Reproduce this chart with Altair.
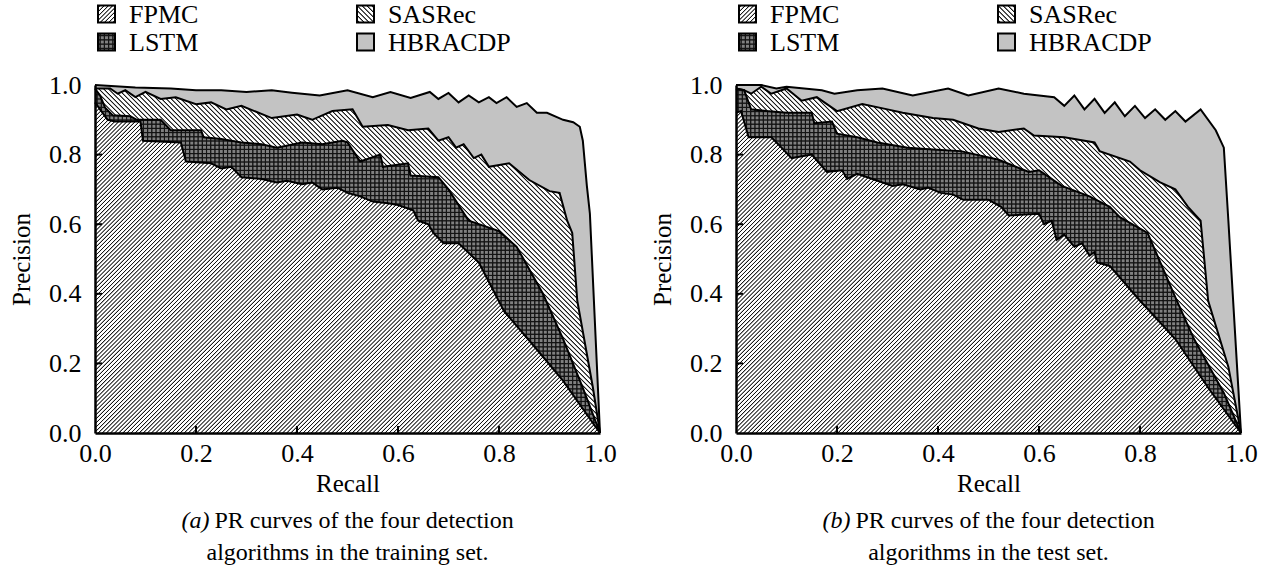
import math
import altair as alt
import pandas as pd

FONT = "Liberation Serif"
W = 505
H = 348

series_names = ["FPMC", "SASRec", "LSTM", "HBRACDP"]
tick_values = [0.2, 0.4, 0.6, 0.8]
label_values = [0.0, 0.2, 0.4, 0.6, 0.8, 1.0]

# ---------------- panel (a): training set ----------------
a_fpmc_recall = [0.00, 0.01, 0.025, 0.04, 0.09, 0.095, 0.17, 0.18, 0.23, 0.25, 0.27, 0.29, 0.33, 0.36, 0.38,
                 0.41, 0.43, 0.45, 0.48, 0.50, 0.525, 0.55, 0.58, 0.60, 0.63, 0.64, 0.66, 0.67, 0.69, 0.72,
                 0.76, 0.81, 0.875, 0.927, 0.99, 1.00]
a_fpmc_prec = [0.95, 0.93, 0.90, 0.895, 0.895, 0.84, 0.835, 0.78, 0.775, 0.76, 0.765, 0.735, 0.73, 0.72, 0.725,
               0.715, 0.72, 0.70, 0.705, 0.69, 0.68, 0.665, 0.66, 0.655, 0.64, 0.61, 0.60, 0.575, 0.545, 0.545,
               0.49, 0.35, 0.24, 0.15, 0.02, 0.00]

a_lstm_recall = [0.00, 0.01, 0.02, 0.035, 0.07, 0.083, 0.13, 0.15, 0.21, 0.215, 0.25, 0.29, 0.33, 0.36, 0.41,
                 0.45, 0.49, 0.50, 0.525, 0.565, 0.57, 0.62, 0.625, 0.68, 0.70, 0.74, 0.80, 0.835, 0.887,
                 0.927, 0.966, 1.00]
a_lstm_prec = [0.99, 0.97, 0.935, 0.913, 0.91, 0.90, 0.90, 0.87, 0.87, 0.85, 0.845, 0.835, 0.83, 0.82, 0.835,
               0.83, 0.84, 0.835, 0.78, 0.80, 0.765, 0.775, 0.74, 0.735, 0.70, 0.61, 0.58, 0.535, 0.40,
               0.27, 0.13, 0.00]

a_sasrec_recall = [0.00, 0.03, 0.045, 0.06, 0.08, 0.10, 0.13, 0.16, 0.20, 0.23, 0.26, 0.29, 0.35, 0.40, 0.43,
                   0.47, 0.51, 0.53, 0.58, 0.62, 0.66, 0.68, 0.70, 0.715, 0.73, 0.75, 0.765, 0.78, 0.82,
                   0.86, 0.90, 0.92, 0.935, 0.945, 0.955, 0.986, 1.00]
a_sasrec_prec = [0.99, 0.99, 0.975, 0.985, 0.965, 0.98, 0.96, 0.965, 0.945, 0.95, 0.93, 0.94, 0.905, 0.915, 0.90,
                 0.925, 0.93, 0.88, 0.885, 0.87, 0.875, 0.84, 0.85, 0.82, 0.83, 0.79, 0.80, 0.765, 0.775,
                 0.727, 0.695, 0.69, 0.61, 0.575, 0.38, 0.13, 0.00]

a_hbracdp_recall = [0.00, 0.08, 0.15, 0.20, 0.25, 0.30, 0.35, 0.39, 0.445, 0.50, 0.55, 0.585, 0.625, 0.663, 0.68,
                    0.70, 0.72, 0.74, 0.76, 0.78, 0.795, 0.815, 0.835, 0.855, 0.875, 0.895, 0.927, 0.947,
                    0.96, 0.966, 0.974, 0.98, 1.00]
a_hbracdp_prec = [1.00, 0.993, 0.99, 0.985, 0.985, 0.98, 0.985, 0.978, 0.97, 0.985, 0.965, 0.98, 0.963, 0.98, 0.96,
                  0.977, 0.95, 0.97, 0.95, 0.965, 0.948, 0.965, 0.937, 0.948, 0.92, 0.92, 0.90, 0.893,
                  0.88, 0.84, 0.71, 0.63, 0.00]

# ---------------- panel (b): test set ----------------
b_fpmc_recall = [0.00, 0.01, 0.025, 0.07, 0.09, 0.11, 0.15, 0.18, 0.21, 0.22, 0.24, 0.27, 0.31, 0.33, 0.365,
                 0.38, 0.405, 0.43, 0.45, 0.50, 0.525, 0.54, 0.60, 0.61, 0.625, 0.635, 0.65, 0.67, 0.685,
                 0.70, 0.71, 0.715, 0.74, 0.80, 0.87, 0.935, 1.00]
b_fpmc_prec = [0.92, 0.925, 0.85, 0.85, 0.82, 0.79, 0.80, 0.75, 0.755, 0.73, 0.745, 0.73, 0.71, 0.715, 0.70,
               0.705, 0.69, 0.685, 0.67, 0.67, 0.65, 0.625, 0.63, 0.60, 0.61, 0.555, 0.57, 0.535, 0.545,
               0.51, 0.52, 0.49, 0.48, 0.38, 0.27, 0.13, 0.00]

b_lstm_recall = [0.00, 0.016, 0.03, 0.06, 0.10, 0.15, 0.155, 0.19, 0.20, 0.24, 0.28, 0.34, 0.39, 0.445, 0.52,
                 0.58, 0.60, 0.645, 0.70, 0.74, 0.76, 0.815, 0.87, 0.907, 0.966, 1.00]
b_lstm_prec = [0.99, 0.985, 0.93, 0.925, 0.92, 0.92, 0.89, 0.895, 0.86, 0.85, 0.835, 0.82, 0.815, 0.81, 0.785,
               0.75, 0.755, 0.71, 0.68, 0.65, 0.62, 0.575, 0.39, 0.27, 0.115, 0.00]

b_sasrec_recall = [0.00, 0.016, 0.03, 0.05, 0.07, 0.10, 0.13, 0.16, 0.20, 0.25, 0.30, 0.33, 0.39, 0.43, 0.48,
                   0.52, 0.57, 0.59, 0.65, 0.71, 0.72, 0.78, 0.80, 0.84, 0.87, 0.895, 0.92, 0.935, 0.975, 1.00]
b_sasrec_prec = [0.99, 0.985, 0.975, 0.995, 0.975, 0.99, 0.955, 0.965, 0.925, 0.945, 0.93, 0.92, 0.905, 0.90, 0.875,
                 0.865, 0.875, 0.855, 0.85, 0.835, 0.81, 0.78, 0.755, 0.72, 0.70, 0.65, 0.61, 0.38, 0.19, 0.00]

b_hbracdp_recall = [0.00, 0.05, 0.08, 0.10, 0.17, 0.195, 0.24, 0.29, 0.35, 0.42, 0.46, 0.52, 0.57, 0.63, 0.65,
                    0.67, 0.69, 0.71, 0.73, 0.75, 0.77, 0.79, 0.81, 0.83, 0.85, 0.87, 0.89, 0.92, 0.95,
                    0.966, 0.975, 1.00]
b_hbracdp_prec = [1.00, 1.00, 0.99, 0.995, 0.985, 0.975, 0.985, 0.99, 0.97, 0.99, 0.97, 0.99, 0.975, 0.965, 0.94,
                  0.97, 0.93, 0.96, 0.92, 0.95, 0.91, 0.94, 0.905, 0.93, 0.90, 0.925, 0.895, 0.93, 0.87,
                  0.82, 0.61, 0.00]

# ---------------- pattern fills built from banded linear gradients ----------------
CLEAR = "rgba(0,0,0,0)"
LINE = "#151515"
LSTM_BG = "#808080"
HBR_FILL = "#c3c3c3"
PER_BAND = 20
# soft stripe profile inside one period: (position, ink?)
PROFILE = [(0.0, False), (0.25, False), (0.45, True), (0.55, True), (0.75, False)]


def banded(n_total, fg, p1, p2):
    """Stripes split in several gradients, each only covering a band (transparent elsewhere)."""
    k_bands = max(1, math.ceil(n_total / PER_BAND))
    out = []
    for k in range(k_bands):
        i0 = k * n_total // k_bands
        i1 = (k + 1) * n_total // k_bands
        m = i1 - i0
        if m <= 0:
            continue
        a = i0 / n_total
        b = i1 / n_total
        q1 = (p1[0] + a * (p2[0] - p1[0]), p1[1] + a * (p2[1] - p1[1]))
        q2 = (p1[0] + b * (p2[0] - p1[0]), p1[1] + b * (p2[1] - p1[1]))
        stops = []
        for i in range(m):
            for pos, ink in PROFILE:
                stops.append({"offset": round((i + pos) / m, 6), "color": fg if ink else CLEAR})
        stops.append({"offset": 1, "color": CLEAR})
        out.append({"gradient": "linear", "x1": round(q1[0], 6), "y1": round(q1[1], 6),
                    "x2": round(q2[0], 6), "y2": round(q2[1], 6), "stops": stops})
    return out


def hatch(w, h, period, kind):
    n = max(1, int(round((w + h) / (period * math.sqrt(2)))))
    k = h / w
    s = (w + h) / (w * (1 + k * k))
    if kind == "/":
        p1, p2 = (0, 0), (s, s * k)
    else:
        p1, p2 = (0, 1), (s, 1 - s * k)
    return banded(n, LINE, p1, p2)


def grid(w, h, period):
    nh = max(1, int(round(h / period)))
    nv = max(1, int(round(w / period)))
    return banded(nh, LINE, (0, 0), (0, 1)) + banded(nv, LINE, (0, 0), (1, 0))


def fills(name, w, h):
    """Base colour and overlay gradients for a series."""
    if name == "FPMC":
        return "#ffffff", hatch(w, h, 2.9, "/")
    if name == "SASRec":
        return "#ffffff", hatch(w, h, 3.4, "\\")
    if name == "LSTM":
        return LSTM_BG, grid(w, h, 4.2)
    return HBR_FILL, []


X = alt.X("recall:Q", scale=alt.Scale(domain=[0, 1], nice=False, zero=False),
          axis=alt.Axis(title="Recall", values=label_values, format=".1f", titlePadding=5,
                        labelPadding=7, zindex=1))
Y = alt.Y("precision:Q", scale=alt.Scale(domain=[0, 1], nice=False, zero=False), stack=None,
          axis=alt.Axis(title="Precision", values=label_values, format=".1f", titlePadding=14,
                        labelPadding=14, zindex=1))

one_row = pd.DataFrame({"d": [0]})


def panel(data, tag, caption_rest, caption2):
    layers = []
    # back to front
    for name in ["HBRACDP", "SASRec", "LSTM", "FPMC"]:
        rec, prec = data[name]
        df = pd.DataFrame({"recall": rec, "precision": prec})
        base, overlays = fills(name, W, max(prec) * H)
        layers.append(alt.Chart(df).mark_area(color=base, interpolate="linear").encode(x=X, y=Y))
        for f in overlays:
            layers.append(alt.Chart(df).mark_area(color=f, interpolate="linear").encode(x=X, y=Y))
        layers.append(alt.Chart(df).mark_line(color="black", strokeWidth=2, strokeJoin="miter",
                                              interpolate="linear").encode(x=X, y=Y))
    # inward ticks
    layers.append(alt.Chart(pd.DataFrame({"recall": tick_values})).mark_rule(color="black", strokeWidth=2)
                  .encode(x=X, y=alt.value(H), y2=alt.value(H - 7)))
    layers.append(alt.Chart(pd.DataFrame({"precision": tick_values})).mark_rule(color="black", strokeWidth=2)
                  .encode(y=Y, x=alt.value(0), x2=alt.value(7)))
    # legend (2 x 2)
    sw = 17
    positions = {"FPMC": (3, -71), "LSTM": (3, -43), "SASRec": (262, -71), "HBRACDP": (262, -43)}
    for name in series_names:
        px, py = positions[name]
        base, overlays = fills(name, sw, sw)
        for f in [base] + overlays:
            layers.append(alt.Chart(one_row).mark_rect(color=f).encode(
                x=alt.value(px), x2=alt.value(px + sw),
                y=alt.value(py - sw / 2), y2=alt.value(py + sw / 2)))
        layers.append(alt.Chart(one_row).mark_rect(fillOpacity=0, stroke="black", strokeWidth=2).encode(
            x=alt.value(px), x2=alt.value(px + sw),
            y=alt.value(py - sw / 2), y2=alt.value(py + sw / 2)))
        layers.append(alt.Chart(one_row).mark_text(align="left", baseline="middle", font=FONT,
                                                   fontSize=26, color="black")
                      .encode(x=alt.value(px + 31), y=alt.value(py + 1), text=alt.value(name)))
    # caption
    start = W / 2 - 166
    layers.append(alt.Chart(one_row).mark_text(align="left", baseline="middle", font=FONT, fontSize=24,
                                               fontStyle="italic", color="black")
                  .encode(x=alt.value(start), y=alt.value(H + 88), text=alt.value(tag)))
    layers.append(alt.Chart(one_row).mark_text(align="left", baseline="middle", font=FONT, fontSize=24,
                                               color="black")
                  .encode(x=alt.value(start + 33), y=alt.value(H + 88), text=alt.value(caption_rest)))
    layers.append(alt.Chart(one_row).mark_text(align="center", baseline="middle", font=FONT, fontSize=24,
                                               color="black")
                  .encode(x=alt.value(W / 2), y=alt.value(H + 120), text=alt.value(caption2)))
    return alt.layer(*layers).properties(width=W, height=H)


data_a = {"FPMC": (a_fpmc_recall, a_fpmc_prec), "LSTM": (a_lstm_recall, a_lstm_prec),
          "SASRec": (a_sasrec_recall, a_sasrec_prec), "HBRACDP": (a_hbracdp_recall, a_hbracdp_prec)}
data_b = {"FPMC": (b_fpmc_recall, b_fpmc_prec), "LSTM": (b_lstm_recall, b_lstm_prec),
          "SASRec": (b_sasrec_recall, b_sasrec_prec), "HBRACDP": (b_hbracdp_recall, b_hbracdp_prec)}

left = panel(data_a, "(a)", "PR curves of the four detection", "algorithms in the training set.")
right = panel(data_b, "(b)", "PR curves of the four detection", "algorithms in the test set.")

chart = (alt.hconcat(left, right, spacing=33)
         .properties(padding={"left": 9, "top": 2, "right": 5, "bottom": 5}, background="white")
         .configure_view(strokeOpacity=0)
         .configure_axis(domainColor="black", domainWidth=2.5, ticks=False, tickSize=0, grid=False,
                         labelFont=FONT, labelFontSize=26, labelColor="black", labelFlush=False,
                         labelOverlap=False, titleFont=FONT, titleFontSize=25, titleFontWeight="normal",
                         titleColor="black"))

chart.save("out.html", embed_options={"renderer": "svg", "actions": False})
